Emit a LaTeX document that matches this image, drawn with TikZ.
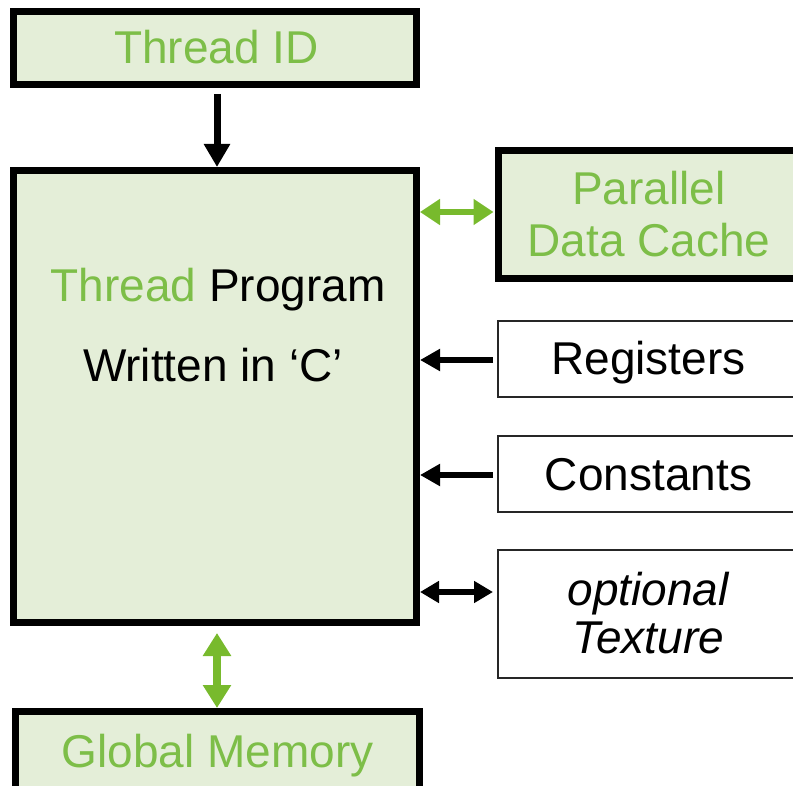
\documentclass[tikz,border=0pt]{standalone}
\usepackage{fontspec}
\setmainfont{Liberation Sans}
\usetikzlibrary{arrows.meta}
\definecolor{boxfill}{RGB}{228,238,216}
\definecolor{txtgreen}{RGB}{125,190,72}
\definecolor{arrgreen}{RGB}{120,186,45}
\tikzset{
  heavybox/.style={draw=black, line width=7pt, fill=boxfill, inner sep=0pt, outer sep=0pt},
  lightbox/.style={draw=black!85, line width=2pt, fill=white, inner sep=0pt, outer sep=0pt},
  lbl/.style={anchor=base, inner sep=0pt, font=\fontsize{46}{52}\selectfont},
  inarrow/.style={line width=6pt, -{Triangle[length=20pt,width=21pt]}},
  bothblack/.style={line width=6pt, {Triangle[length=19pt,width=21pt]}-{Triangle[length=19pt,width=21pt]}},
  bothgreen/.style={draw=arrgreen, line width=6pt, {Triangle[length=20pt,width=25pt]}-{Triangle[length=20pt,width=25pt]}},
}
\begin{document}
\begin{tikzpicture}[x=1pt, y=-1pt]
\useasboundingbox (0,0) rectangle (793,786);

% thread-side blocks
\node[heavybox, minimum width=403pt, minimum height=73pt] (tid) at (215,48) {};
\node[heavybox, minimum width=403pt, minimum height=452pt] (main) at (215,396.5) {};
\node[heavybox, minimum width=404pt, minimum height=84.5pt] (gm) at (217.5,753.75) {};

% memory spaces on the right
\node[heavybox, minimum width=301.5pt, minimum height=128pt] (pdc) at (649.25,214.5) {};
\node[lightbox, minimum width=302pt, minimum height=76pt] (reg) at (649,359) {};
\node[lightbox, minimum width=302pt, minimum height=76pt] (con) at (649,474) {};
\node[lightbox, minimum width=302pt, minimum height=128pt] (tex) at (649,614) {};

% texts
\node[lbl, text=txtgreen] (tidtxt) at (216.5,64) {Thread ID};
\node[lbl] (progtxt) at (218,302) {\textcolor{txtgreen}{Thread} Program};
\node[lbl] (ctxt) at (213,382) {Written in ‘C’};
\node[lbl, text=txtgreen] (gmtxt) at (217.5,767) {Global Memory};
\node[lbl, text=txtgreen] (pdctxtA) at (649,205) {Parallel};
\node[lbl, text=txtgreen] (pdctxtB) at (649,257) {Data Cache};
\node[lbl] (regtxt) at (648.5,375) {Registers};
\node[lbl] (contxt) at (648.5,490) {Constants};
\node[lbl, font=\fontsize{46}{52}\selectfont\itshape] (textxtA) at (648,605) {optional};
\node[lbl, font=\fontsize{46}{52}\selectfont\itshape] (textxtB) at (648,653) {Texture};

% connectors
\draw[line width=7pt, -{Triangle[length=23pt,width=25pt]}, shorten <=9.5pt, shorten >=3.5pt]
  (tid.south -| 217,0) -- (main.north -| 217,0);
\draw[bothgreen, shorten <=3.5pt, shorten >=5pt] (main.east |- 0,212) -- (pdc.west |- 0,212);
\draw[inarrow, shorten <=5pt, shorten >=3.5pt] (reg.west |- 0,360) -- (main.east |- 0,360);
\draw[inarrow, shorten <=5pt, shorten >=3.5pt] (con.west |- 0,475) -- (main.east |- 0,475);
\draw[bothblack, shorten <=3.5pt, shorten >=5pt] (main.east |- 0,592) -- (tex.west |- 0,592);
\draw[draw=arrgreen, line width=8pt, {Triangle[length=23pt,width=27pt]}-{Triangle[length=23pt,width=27pt]},
  shorten <=10.5pt, shorten >=3.5pt] (main.south -| 217,0) -- (gm.north -| 217,0);
\end{tikzpicture}
\end{document}
